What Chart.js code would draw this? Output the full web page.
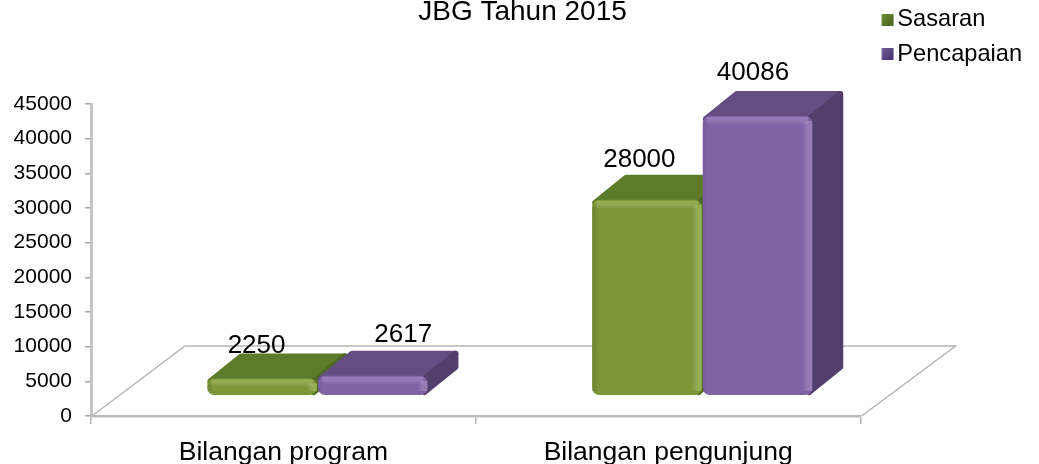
<!DOCTYPE html>
<html>
<head>
<meta charset="utf-8">
<style>html,body{margin:0;padding:0;background:#fff}canvas{display:block}</style>
<script src="https://cdn.jsdelivr.net/npm/chart.js@4"></script>
</head>
<body>
<canvas id="c" width="1039" height="464"></canvas>
<script>
const categories = ['Bilangan program', 'Bilangan pengunjung'];
const sasaran = [2250, 28000];
const pencapaian = [2617, 40086];
const tickValues = [0, 5000, 10000, 15000, 20000, 25000, 30000, 35000, 40000, 45000];

const FONT = '"Liberation Sans", Arial, sans-serif';
const SHIFT = {x: 34, y: -22};
const DEPTH = {x: 31, y: -25};
const FACES = [
  {front: '#7c9638', top: '#5d7b28', side: '#4f6a22', glow: 'rgba(190,225,110,0.4)', edge: 'rgba(60,85,20,0.18)', mark: ['#7d9a3e', '#4f6c22']},
  {front: '#8063a4', top: '#644d82', side: '#523f6e', glow: 'rgba(200,175,235,0.35)', edge: 'rgba(70,50,110,0.12)', mark: ['#8064a2', '#4e3b78']}
];
// label nudges relative to each bar's back-top centre, per series then category
const LABEL_NUDGE = [[[-5.5, -8], [-7.5, -15]], [[30.5, -16], [-4.5, -18]]];

function poly(ctx, pts, fill, r) {
  ctx.beginPath();
  pts.forEach((p, i) => i ? ctx.lineTo(p[0], p[1]) : ctx.moveTo(p[0], p[1]));
  ctx.closePath();
  ctx.fillStyle = fill;
  ctx.strokeStyle = fill;
  ctx.lineJoin = 'round';
  ctx.lineWidth = r;
  ctx.stroke();
  ctx.fill();
}

function legendMark(colors) {
  const cv = document.createElement('canvas');
  cv.width = 18;
  cv.height = 12;
  const c = cv.getContext('2d');
  const g = c.createLinearGradient(0, 0, 12, 12);
  g.addColorStop(0, colors[0]);
  g.addColorStop(1, colors[1]);
  c.fillStyle = g;
  c.fillRect(5.5, 0, 12, 12);
  return cv;
}

const bars3d = {
  id: 'bars3d',
  beforeDatasetsDraw(chart) {
    const {ctx, chartArea: a} = chart;
    // floor
    ctx.save();
    ctx.strokeStyle = '#b5b5b5';
    ctx.lineWidth = 1.5;
    ctx.beginPath();
    ctx.moveTo(a.left + 1, a.bottom);
    ctx.lineTo(a.left + 94, a.bottom - 70);
    ctx.lineTo(a.right + 95, a.bottom - 70);
    ctx.lineTo(a.right + 1, a.bottom);
    ctx.stroke();
    ctx.restore();
    ctx.save();
    ctx.translate(SHIFT.x, SHIFT.y);
    chart.data.datasets.forEach((ds, d) => {
      const f = FACES[d];
      chart.getDatasetMeta(d).data.forEach(b => {
        const l = b.x - b.width / 2, r = b.x + b.width / 2, t = b.y, bot = b.base;
        const i = 3;
        poly(ctx, [[l + i, t + i], [l + DEPTH.x + i, t + DEPTH.y + i], [r + DEPTH.x - i, t + DEPTH.y + i], [r - i, t + i]], f.top, 6);
        poly(ctx, [[r - i, t + i], [r + DEPTH.x - i, t + DEPTH.y + i], [r + DEPTH.x - i, bot + DEPTH.y - i], [r - i, bot - i]], f.side, 6);
      });
    });
  },
  afterDatasetsDraw(chart) {
    const {ctx} = chart;
    chart.data.datasets.forEach((ds, d) => {
      const f = FACES[d];
      chart.getDatasetMeta(d).data.forEach(b => {
        const l = b.x - b.width / 2, r = b.x + b.width / 2, t = b.y, bot = b.base;
        const h = Math.min(9, (bot - t) / 2);
        let g = ctx.createLinearGradient(0, t, 0, t + h);
        g.addColorStop(0, f.glow);
        g.addColorStop(1, 'rgba(255,255,255,0)');
        ctx.fillStyle = g;
        ctx.fillRect(l + 4, t + 1, b.width - 8, h);
        g = ctx.createLinearGradient(l, 0, l + 6, 0);
        g.addColorStop(0, f.edge);
        g.addColorStop(1, 'rgba(0,0,0,0)');
        ctx.fillStyle = g;
        ctx.fillRect(l, t + 5, 6, Math.max(0, bot - t - 9));
        g = ctx.createLinearGradient(r - 10, 0, r, 0);
        g.addColorStop(0, 'rgba(255,255,255,0)');
        g.addColorStop(1, f.glow);
        ctx.fillStyle = g;
        ctx.fillRect(r - 10, t + 5, 10, Math.max(0, bot - t - 9));
      });
    });
    ctx.restore();
    // value labels
    ctx.save();
    ctx.font = '26px ' + FONT;
    ctx.fillStyle = '#000';
    ctx.textAlign = 'center';
    ctx.textBaseline = 'middle';
    chart.data.datasets.forEach((ds, d) => {
      chart.getDatasetMeta(d).data.forEach((b, k) => {
        const n = LABEL_NUDGE[d][k];
        ctx.fillText(String(ds.data[k]), b.x + SHIFT.x + n[0], b.y + SHIFT.y + DEPTH.y + n[1]);
      });
    });
    ctx.restore();
  }
};

new Chart(document.getElementById('c'), {
  type: 'bar',
  data: {
    labels: categories,
    datasets: [
      {label: 'Sasaran', data: sasaran, backgroundColor: FACES[0].front, clip: false},
      {label: 'Pencapaian', data: pencapaian, backgroundColor: FACES[1].front, clip: false}
    ]
  },
  plugins: [bars3d],
  options: {
    responsive: false,
    animation: false,
    layout: {padding: {left: 13, right: 7, top: -3, bottom: 0}},
    datasets: {bar: {categoryPercentage: 0.575, barPercentage: 0.99, borderRadius: 7, borderSkipped: false, base: -144}},
    plugins: {
      tooltip: {enabled: false},
      title: {
        display: true,
        text: 'JBG Tahun 2015',
        color: '#000',
        font: {family: FONT, size: 28, weight: 'normal'},
        padding: {top: -2, bottom: 75.4}
      },
      legend: {
        position: 'right',
        align: 'start',
        labels: {
          color: '#000',
          font: {family: FONT, size: 23.6},
          usePointStyle: true,
          boxWidth: 1,
          boxHeight: 12,
          padding: 11,
          generateLabels(chart) {
            return chart.data.datasets.map((ds, i) => ({
              text: ds.label,
              pointStyle: legendMark(FACES[i].mark),
              fillStyle: FACES[i].mark[1],
              strokeStyle: FACES[i].mark[1],
              lineWidth: 0,
              datasetIndex: i
            }));
          }
        }
      }
    },
    scales: {
      x: {
        afterFit(s) { s.height = 48; },
        grid: {offset: true, drawOnChartArea: false, color: '#b0b0b0', lineWidth: 1.5, tickLength: 8},
        border: {color: '#bdbdbd', width: 2.5},
        ticks: {color: '#000', font: {family: FONT, size: 26.5}, padding: 13, maxRotation: 0}
      },
      y: {
        min: 0,
        max: 45000,
        afterFit(s) { s.width = 78; },
        afterBuildTicks(s) { s.ticks = tickValues.map(v => ({value: v})); },
        grid: {drawOnChartArea: false, color: '#a8a8a8', lineWidth: 1.5, tickLength: 6},
        border: {color: '#c4c4c4', width: 3},
        ticks: {color: '#000', font: {family: FONT, size: 21}, padding: 13, callback: v => String(v)}
      },
      spacer: {
        position: 'right',
        display: true,
        grid: {display: false},
        border: {display: false},
        ticks: {display: false},
        afterFit(s) { s.width = 13; }
      }
    }
  }
});
</script>
</body>
</html>
